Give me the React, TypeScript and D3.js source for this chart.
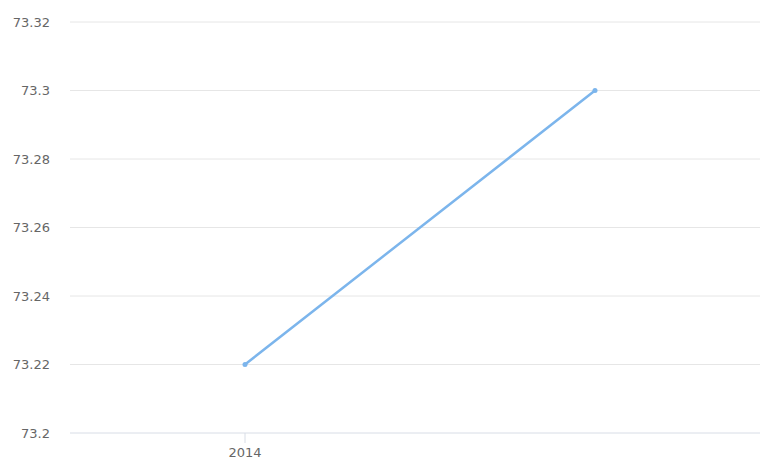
import React from "react";
import * as d3 from "d3";

const categories = ["2014", ""];
const values = [73.22, 73.3];
const yTicks = [73.2, 73.22, 73.24, 73.26, 73.28, 73.3, 73.32];

const W = 760;
const H = 459;
const left = 70;
const right = 770;
const top = 22;
const bottom = 433;

export default function App() {
  const x = d3.scaleBand<string>().domain(categories.map((c, i) => String(i))).range([left, right]);
  const y = d3.scaleLinear().domain([73.2, 73.32]).range([bottom, top]);
  const cx = (i: number) => (x(String(i)) as number) + x.bandwidth() / 2;
  const line = d3
    .line<number>()
    .x((_, i) => cx(i))
    .y((d) => y(d));
  const fmt = (v: number) => String(+v.toFixed(2));
  return (
    <svg
      width={W}
      height={H}
      style={{ position: "absolute", left: 0, top: 0, background: "#fff" }}
      fontFamily="'DejaVu Sans', Verdana, sans-serif"
    >
      {yTicks.map((t) => (
        <g key={t}>
          <line x1={left} x2={W} y1={y(t)} y2={y(t)} stroke={t === 73.2 ? "#d8dde6" : "#e6e6e6"} strokeWidth={1} />
          <text x={50} y={y(t)} dy="0.35em" textAnchor="end" fontSize={13} fill="#666">
            {fmt(t)}
          </text>
        </g>
      ))}
      {categories.map((c, i) =>
        c ? (
          <g key={i}>
            <line x1={cx(i)} x2={cx(i)} y1={bottom} y2={bottom + 10} stroke="#d8dde6" />
            <text x={cx(i)} y={bottom + 24} textAnchor="middle" fontSize={13} fill="#666">
              {c}
            </text>
          </g>
        ) : null
      )}
      <path d={line(values) || ""} fill="none" stroke="#7cb5ec" strokeWidth={2.5} strokeLinejoin="round" strokeLinecap="round" />
      {values.map((v, i) => (
        <circle key={i} cx={cx(i)} cy={y(v)} r={2.5} fill="#7cb5ec" />
      ))}
    </svg>
  );
}
